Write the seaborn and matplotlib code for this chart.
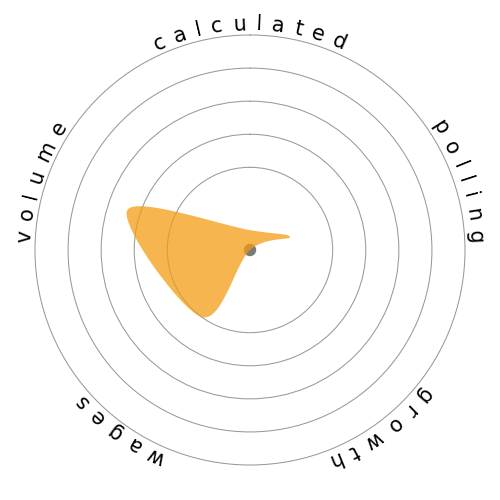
import numpy as np
import matplotlib
matplotlib.use("Agg")
import matplotlib.pyplot as plt
import seaborn as sns
from matplotlib.font_manager import FontProperties

# data
categories = ["calculated", "polling", "growth", "wages", "volume"]
values = [0.6, 1.27, 0.0, 2.5, 3.9]
grid_levels = [2.5, 3.5, 4.5, 5.5]
r_max = 6.5

sns.set_theme(style="white")
plt.rcParams["font.family"] = ["DejaVu Sans"]

fill_color = "#f39c12"
grid_color = "#999999"


def catmull_rom_closed(x, y, n=60):
    # uniform closed Catmull-Rom spline (cardinal, tension 0)
    k = len(x)
    pts = np.column_stack([x, y])
    out = []
    t = np.linspace(0, 1, n, endpoint=False)[:, None]
    for i in range(k):
        p0, p1, p2, p3 = pts[(i - 1) % k], pts[i], pts[(i + 1) % k], pts[(i + 2) % k]
        seg = 0.5 * (2 * p1 + (-p0 + p2) * t + (2 * p0 - 5 * p1 + 4 * p2 - p3) * t ** 2
                     + (-p0 + 3 * p1 - 3 * p2 + p3) * t ** 3)
        out.append(seg)
    out = np.vstack(out + [out[0][:1]])
    return out[:, 0], out[:, 1]


fig = plt.figure(figsize=(5, 5), dpi=100)
ax = fig.add_axes([35 / 500, 35 / 500, 430 / 500, 430 / 500], projection="polar")
ax.set_theta_zero_location("N")
ax.set_theta_direction(-1)
ax.set_ylim(0, r_max)

theta = np.arange(len(categories)) * 2 * np.pi / len(categories)
vals = np.array(values)
# x to the right, y up (theta clockwise from north)
cx = vals * np.sin(theta)
cy = vals * np.cos(theta)
sx, sy = catmull_rom_closed(cx, cy)
s_theta = np.arctan2(sx, sy)
s_r = np.hypot(sx, sy)

sns.scatterplot(x=[0], y=[0], ax=ax, color="#7a7a7a", s=80, edgecolor="none", zorder=2)
ax.fill(s_theta, s_r, color=fill_color, alpha=0.75, lw=0, zorder=3)

ax.set_rgrids(grid_levels, labels=[""] * len(grid_levels))
ax.set_thetagrids([], [])
ax.grid(True, axis="y", color=grid_color, lw=0.75)
ax.grid(False, axis="x")
ax.spines["polar"].set_color(grid_color)
ax.spines["polar"].set_linewidth(0.75)
ax.set_xlabel("")
ax.set_ylabel("")

# curved labels, letters placed along a circle just outside the outer ring
prop = FontProperties(family="DejaVu Sans", size=15)
renderer = fig.canvas.get_renderer()
R_px = 220.0
r_label = R_px / 215.0 * r_max
extra = 9.5
for cat, th in zip(categories, theta):
    phi_c = np.pi / 2 - th
    widths = [renderer.get_text_width_height_descent(ch, prop, ismath=False)[0] for ch in cat]
    adv = [w + extra for w in widths]
    total = sum(adv) - extra
    pos = 0.0
    for ch, w, a in zip(cat, widths, adv):
        s = pos + w / 2 - total / 2
        phi = phi_c - s / R_px
        ax.text(np.pi / 2 - phi, r_label, ch, fontproperties=prop, color="black",
                ha="center", va="baseline", rotation=np.degrees(phi) - 90,
                rotation_mode="anchor", clip_on=False)
        pos += a

fig.savefig("out.png", dpi=100)
